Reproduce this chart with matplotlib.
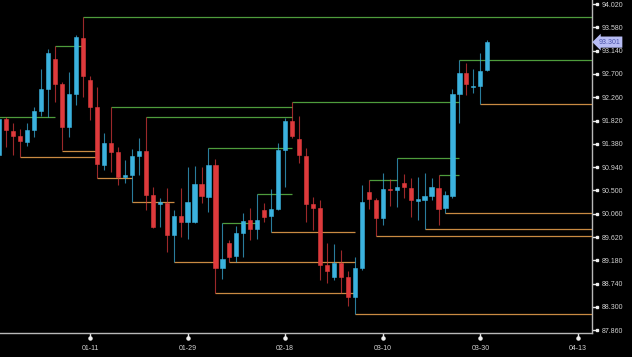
import matplotlib
matplotlib.use('Agg')
import matplotlib.pyplot as plt
import matplotlib.transforms as mtransforms
import numpy as np

# daily candles, bar 0 is the partly hidden one at the left edge
opens = [91.17, 91.85, 91.62, 91.53, 91.41, 91.64, 92.00, 92.42, 92.98, 92.51,
         91.70, 92.32, 93.38, 92.59, 92.08, 90.98, 91.40, 91.23, 90.75, 90.79,
         91.15, 91.25, 90.41, 90.24, 90.26, 89.66, 90.02, 89.90, 89.90, 90.62,
         90.38, 90.98, 89.04, 89.51, 89.26, 89.70, 89.94, 89.77, 90.13, 90.02,
         90.15, 91.26, 91.81, 91.47, 91.15, 90.24, 90.17, 89.09, 88.87, 89.13,
         88.87, 88.49, 89.04, 90.47, 90.32, 89.98, 90.53, 90.51, 90.64, 90.55,
         90.30, 90.32, 90.40, 90.55, 90.17, 90.40, 92.32, 92.72, 92.45, 92.47,
         92.77]
highs = [91.89, 91.89, 91.77, 91.66, 91.77, 92.08, 92.79, 93.17, 93.23, 92.55,
         92.74, 93.43, 93.78, 92.66, 92.45, 91.58, 92.08, 91.32, 91.08, 91.28,
         91.49, 91.89, 90.57, 90.36, 90.55, 90.13, 90.55, 90.94, 90.96, 90.94,
         91.30, 91.09, 89.89, 89.56, 89.83, 90.07, 90.17, 90.43, 90.26, 90.53,
         91.40, 91.87, 92.17, 91.91, 91.30, 90.38, 90.32, 89.51, 89.49, 89.38,
         88.98, 89.24, 90.60, 90.70, 90.36, 90.83, 90.72, 91.11, 90.81, 90.74,
         90.76, 90.83, 90.74, 90.79, 90.49, 92.42, 92.96, 92.91, 92.79, 93.09,
         93.34]
lows = [91.11, 91.32, 91.17, 91.13, 91.34, 91.51, 91.91, 91.89, 92.17, 91.26,
        91.51, 92.11, 92.26, 91.83, 90.74, 90.89, 90.85, 90.60, 90.64, 90.28,
        90.79, 90.13, 89.79, 89.81, 89.34, 89.15, 89.62, 89.58, 89.89, 90.26,
        90.09, 88.56, 88.83, 89.15, 89.15, 89.24, 89.56, 89.58, 89.90, 89.72,
        90.13, 90.57, 91.49, 91.02, 89.90, 89.75, 88.81, 88.75, 88.81, 88.56,
        88.32, 88.17, 89.00, 90.15, 89.64, 89.85, 90.21, 90.19, 90.36, 90.00,
        89.94, 89.77, 90.32, 89.85, 90.07, 90.36, 91.77, 92.30, 92.34, 92.13,
        92.75]
closes = [91.85, 91.64, 91.53, 91.43, 91.64, 92.00, 92.42, 93.09, 92.51, 91.70,
          92.32, 93.40, 92.66, 92.08, 91.00, 91.40, 91.23, 90.75, 90.79, 91.15,
          91.25, 90.41, 89.81, 90.28, 89.66, 90.02, 89.90, 90.28, 90.62, 90.40,
          90.98, 89.04, 89.21, 89.24, 89.70, 89.92, 89.77, 89.94, 90.00, 90.15,
          91.26, 91.81, 91.53, 91.17, 90.24, 90.17, 89.09, 88.98, 89.13, 88.87,
          88.49, 89.04, 90.28, 90.34, 89.98, 90.53, 90.51, 90.57, 90.57, 90.32,
          90.34, 90.40, 90.57, 90.15, 90.41, 92.32, 92.72, 92.51, 92.47, 92.75,
          93.301]

# resistance levels (green) and support levels (orange), end None = still open
res_price = [93.78, 93.23, 91.89, 92.08, 91.89, 92.17, 91.30, 90.43, 89.89, 90.70, 91.11, 90.79, 92.96]
res_start = [12, 8, -2, 16, 21, 42, 30, 37, 32, 53, 57, 63, 66]
res_end = [None, 12, 8, 42, 42, 66, 42, 42, 37, 57, 66, 66, None]

sup_price = [91.25, 91.13, 90.74, 90.28, 89.15, 88.56, 89.15, 89.72, 88.17, 89.64, 89.77, 90.07, 92.13]
sup_start = [9, 3, 14, 19, 25, 31, 33, 39, 51, 54, 61, 64, 69]
sup_end = [14, 14, 19, 25, 31, 51, 51, 51, None, None, None, None, None]

tick_bars = [13, 27, 41, 55, 69, 83]
tick_labels = ['01-11', '01-29', '02-18', '03-10', '03-30', '04-13']

up_col = '#3bb2de'
down_col = '#de3a3c'
green = '#4e9c3c'
orange = '#c98a42'
axis_col = '#b8b8b8'
text_col = '#d2d2d2'

fig = plt.figure(figsize=(6.32, 3.57), dpi=100, facecolor='black')
ax = fig.add_axes([0, 24 / 357, 592 / 632, 333 / 357])
ax.set_facecolor('black')

x_right = 85.02
ax.set_xlim(0.09, x_right)
ax.set_ylim(87.809, 94.096)

# level lines go under the candles
for p, s, e in zip(res_price, res_start, res_end):
    ax.hlines(p, s, x_right if e is None else e, color=green, lw=0.9, zorder=1)
for p, s, e in zip(sup_price, sup_start, sup_end):
    ax.hlines(p, s, x_right if e is None else e, color=orange, lw=0.9, zorder=1)

o = np.array(opens)
h = np.array(highs)
l = np.array(lows)
c = np.array(closes)
x = np.arange(len(o))
up = c >= o
cols = np.where(up, up_col, down_col)

ax.vlines(x, l, h, colors=cols, lw=0.8, alpha=0.7, zorder=2)
ax.bar(x, np.abs(c - o), bottom=np.minimum(o, c), width=0.6,
       color=cols, edgecolor=cols, linewidth=0.4, zorder=3)

# axes look
for side in ['top', 'left']:
    ax.spines[side].set_visible(False)
for side in ['bottom', 'right']:
    ax.spines[side].set_color(axis_col)
    ax.spines[side].set_linewidth(1.0)
ax.spines['bottom'].set_zorder(5)

yt = np.round(np.arange(87.86, 94.03, 0.44), 2)
ax.yaxis.tick_right()
ax.set_yticks(yt)
ax.set_yticklabels(['%.3f' % v for v in yt])
ax.set_xticks(tick_bars)
ax.set_xticklabels(tick_labels)
ax.tick_params(axis='both', colors='#e8e8e8', length=4, width=1.0, labelsize=5,
               labelcolor=text_col)
ax.tick_params(axis='x', pad=5)
ax.tick_params(axis='y', pad=3)
for lab in ax.get_xticklabels() + ax.get_yticklabels():
    lab.set_family('Liberation Sans')

# little dots on the tick ends
tx = mtransforms.blended_transform_factory(ax.transData, ax.transAxes)
ax.plot(tick_bars, [-0.016] * len(tick_bars), 'o', ms=2.2, color='#f0f0f0',
        transform=tx, clip_on=False)
ty = mtransforms.blended_transform_factory(ax.transAxes, ax.transData)
ax.plot([1.009] * len(yt), yt, 's', ms=1.8, color='#f0f0f0',
        transform=ty, clip_on=False)

# last price tag
ax.text(1.011, closes[-1], '%.3f' % closes[-1], transform=ty, fontsize=5,
        family='Liberation Sans', color='#4a54a8', va='center', ha='left',
        bbox=dict(boxstyle='larrow,pad=0.3', fc='#b7bcf4', ec='none'),
        zorder=10, clip_on=False)

fig.savefig('out.png', dpi=100, facecolor='black')
